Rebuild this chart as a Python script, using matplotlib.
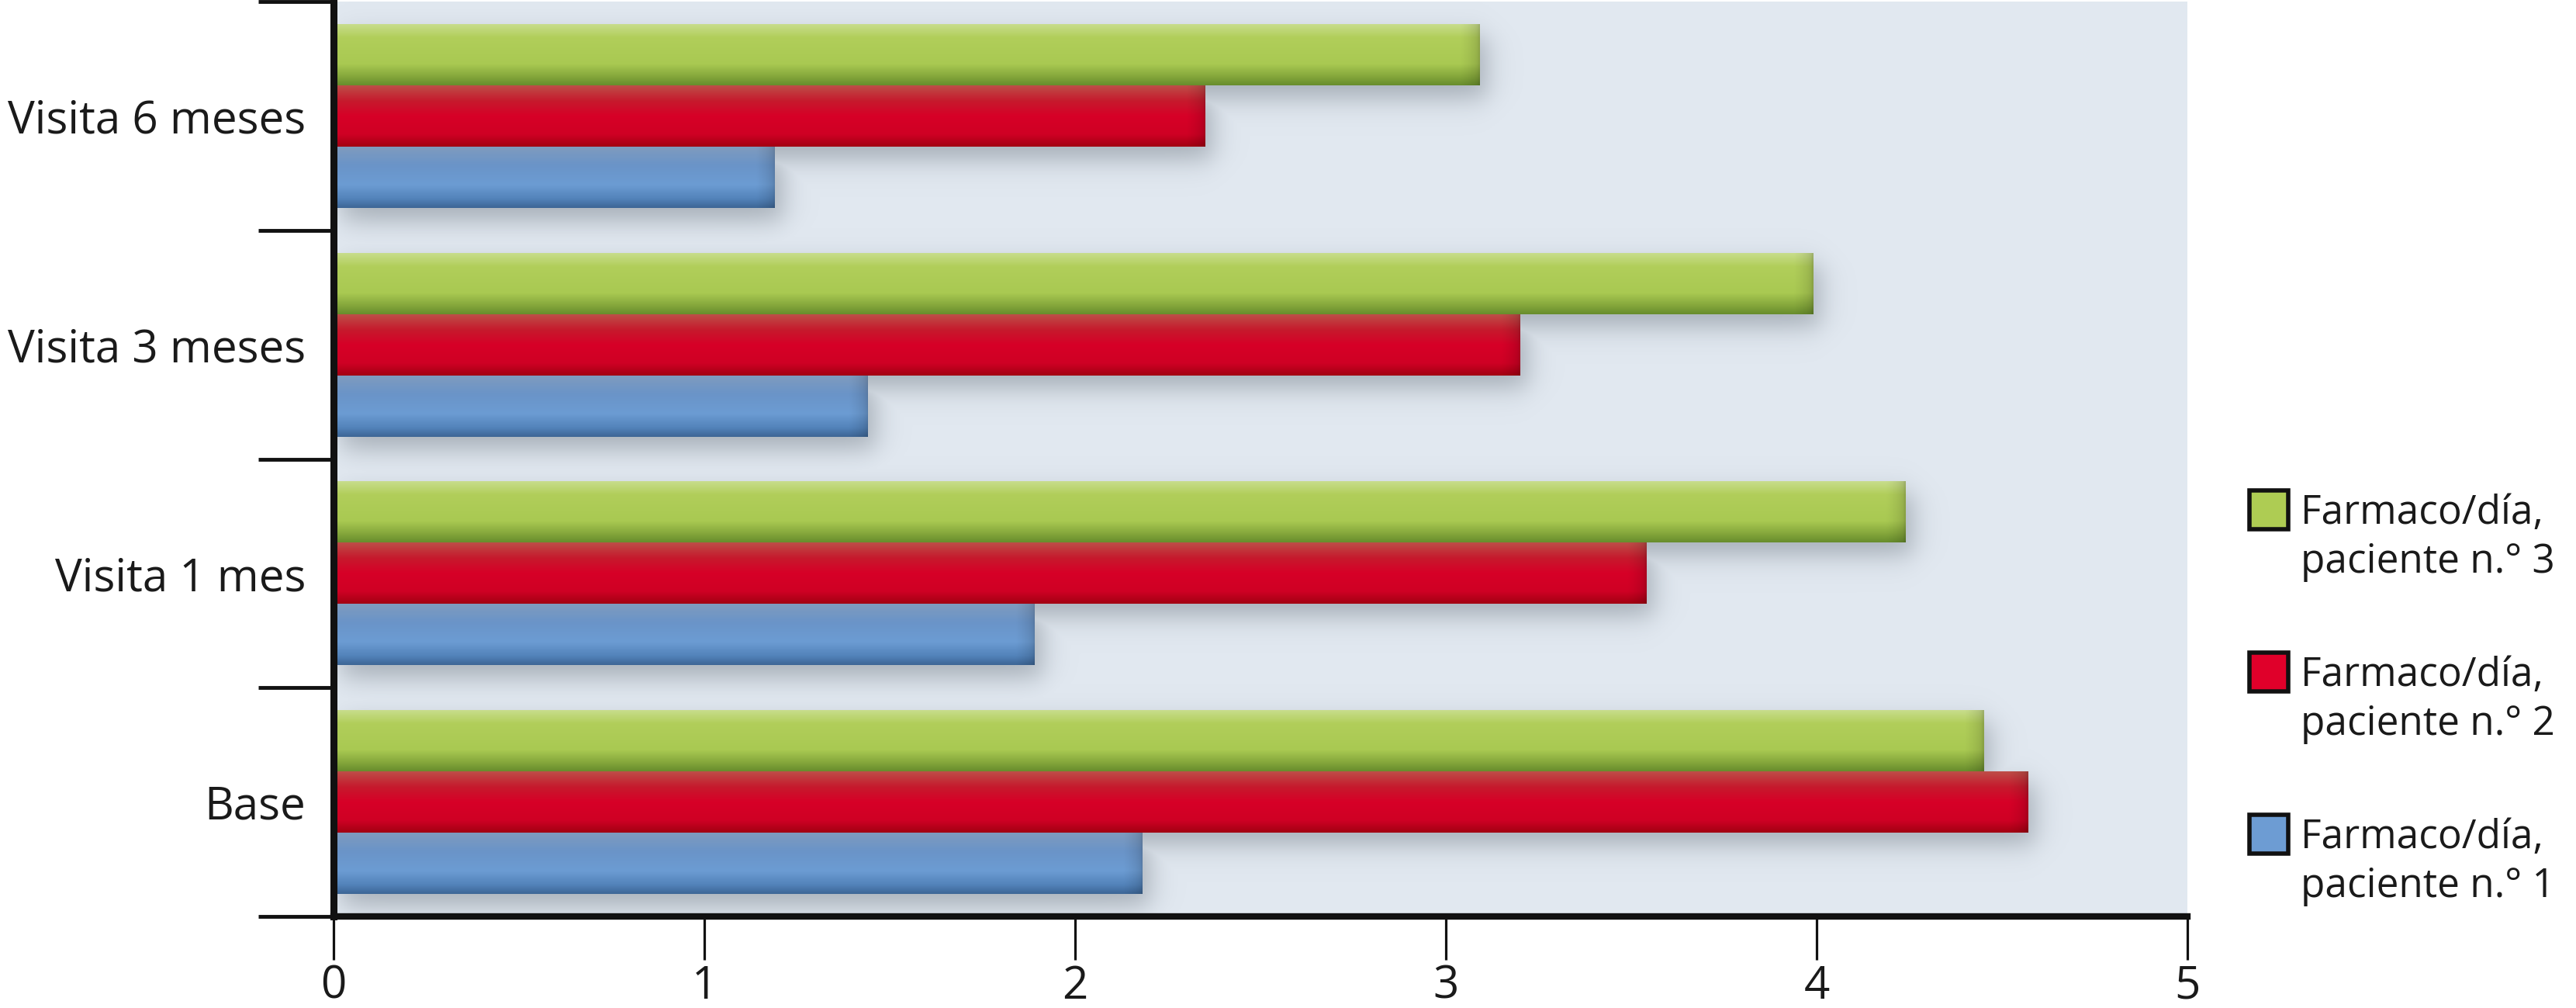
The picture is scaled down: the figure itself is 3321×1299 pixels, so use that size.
import numpy as np
import matplotlib
matplotlib.use("Agg")
import matplotlib.pyplot as plt
from matplotlib.patches import Rectangle
from matplotlib.colors import to_rgb

# ---------------- data ----------------
categories = ["Base", "Visita 1 mes", "Visita 3 meses", "Visita 6 meses"]
paciente_1 = [2.18, 1.89, 1.44, 1.19]
paciente_2 = [4.57, 3.54, 3.20, 2.35]
paciente_3 = [4.45, 4.24, 3.99, 3.09]
series_labels = ["Farmaco/día,\npaciente n.° 1",
                 "Farmaco/día,\npaciente n.° 2",
                 "Farmaco/día,\npaciente n.° 3"]
x_ticks = [0, 1, 2, 3, 4, 5]

plt.rcParams['font.family'] = ['Open Sans', 'DejaVu Sans']

W, H = 3321, 1299
fig = plt.figure(figsize=(W / 100, H / 100), dpi=100)
fig.patch.set_facecolor('white')
ax = fig.add_axes([430 / W, 1 - 1181 / H, (2820 - 430) / W, (1181 - 2) / H])
ax.set_facecolor('#E1E8F0')

bar_h = 0.268
offsets = [-bar_h, 0.0, bar_h]          # paciente 1 (bottom), 2, 3 (top)
series = [paciente_1, paciente_2, paciente_3]
base_cols = ['#6A9ACF', '#D80027', '#AECB53']
legend_cols = ['#6D9CD3', '#E0002A', '#AECC53']
grad_stops = [
    [(0.0, '#7F9BBE'), (0.3, '#6A94C8'), (0.62, '#6C9CD3'), (0.85, '#5383BA'), (1.0, '#3D6696')],
    [(0.0, '#BE4E48'), (0.25, '#C61A2D'), (0.5, '#D70027'), (0.8, '#CF0024'), (1.0, '#A20012')],
    [(0.0, '#C8DD8C'), (0.22, '#B1CE5A'), (0.65, '#A9C952'), (0.85, '#86A83C'), (1.0, '#688D2D')],
]

ax.set_xlim(0, 5)
ax.set_ylim(-0.5, 3.5)
ypos = np.arange(len(categories))

# ---------------- soft drop shadow ----------------
px_x = 5 / 2390
px_y = 4 / 1179
nx, ny = 1200, 600
xs = np.linspace(0, 5, nx)
ys = np.linspace(-0.5, 3.5, ny)
X, Y = np.meshgrid(xs, ys)


def sig(z):
    return 1.0 / (1.0 + np.exp(-np.clip(z, -40, 40)))


mask = np.zeros_like(X)
dx, dy, s = 10 * px_x, 16 * px_y, 10.0
for vals, off in zip(series, offsets):
    for yc, v in zip(ypos, vals):
        x0, x1 = dx, v + dx
        yb, yt = yc + off - bar_h / 2 - dy, yc + off + bar_h / 2 - dy
        m = (sig((X - x0) / (s * px_x)) * sig((x1 - X) / (s * px_x)) *
             sig((Y - yb) / (s * px_y)) * sig((yt - Y) / (s * px_y)))
        mask = np.maximum(mask, m)
shadow = np.zeros((ny, nx, 4))
shadow[..., 0] = 0.42
shadow[..., 1] = 0.46
shadow[..., 2] = 0.50
shadow[..., 3] = 0.50 * mask
ax.imshow(shadow, extent=(0, 5, -0.5, 3.5), origin='lower', aspect='auto',
          zorder=1, interpolation='bilinear')

# ---------------- bars with glossy gradient ----------------
for vals, off, col, stops in zip(series, offsets, base_cols, grad_stops):
    bars = ax.barh(ypos + off, vals, height=bar_h, color=col, zorder=3, linewidth=0)
    pos = [p for p, _ in stops]
    cols = np.array([to_rgb(c) for _, c in stops])
    t = np.linspace(0, 1, 160)
    rgb = np.stack([np.interp(t, pos, cols[:, k]) for k in range(3)], axis=-1)
    for patch, v in zip(bars.patches, vals):
        xg = np.linspace(0, v, 800)
        d = np.clip((v - xg) / 0.05, 0, 1)
        fac = 0.80 + 0.20 * np.sqrt(d)
        img = np.clip(rgb[:, None, :] * fac[None, :, None], 0, 1)
        y0 = patch.get_y()
        im = ax.imshow(img, extent=(0, v, y0, y0 + bar_h), origin='upper',
                       aspect='auto', zorder=4, interpolation='bilinear')
        im.set_clip_path(patch)

ax.set_xlim(0, 5)
ax.set_ylim(-0.5, 3.5)

# ---------------- axes styling ----------------
for sp in ['top', 'right']:
    ax.spines[sp].set_visible(False)
ax.spines['left'].set_linewidth(6.5)
ax.spines['bottom'].set_linewidth(6)
ax.spines['left'].set_color('#111111')
ax.spines['bottom'].set_color('#111111')
ax.spines['left'].set_zorder(6)
ax.spines['bottom'].set_zorder(6)

ax.set_yticks(np.arange(-0.5, len(categories), 1.0))
ax.set_yticklabels([])
ax.set_yticks(ypos, minor=True)
ax.set_yticklabels(categories, minor=True)
ax.tick_params(axis='y', which='major', length=70, width=3.5, color='#111111',
               direction='out')
ax.tick_params(axis='y', which='minor', length=0, pad=26, labelsize=42,
               labelcolor='#1a1a1a')

ax.set_xticks(x_ticks)
ax.set_xticklabels([str(v) for v in x_ticks])
ax.tick_params(axis='x', which='major', length=40, width=2.3, color='#111111',
               direction='out', pad=4, labelsize=42, labelcolor='#1a1a1a')

# ---------------- legend (drawn manually) ----------------
legend_centers = [1075, 866, 657]   # pixel rows (from top) for paciente 1,2,3
sq = 50
for lab, col, yc in zip(series_labels, legend_cols, legend_centers):
    fig.add_artist(Rectangle((2900 / W, 1 - (yc + sq / 2) / H), sq / W, sq / H,
                             transform=fig.transFigure, facecolor=col,
                             edgecolor='#111111', linewidth=4))
    fig.text(2966 / W, 1 - (yc - 21) / H, lab, fontsize=37, color='#1a1a1a',
             ha='left', va='top', linespacing=1.3)

fig.savefig('out.png', dpi=100, facecolor='white')
